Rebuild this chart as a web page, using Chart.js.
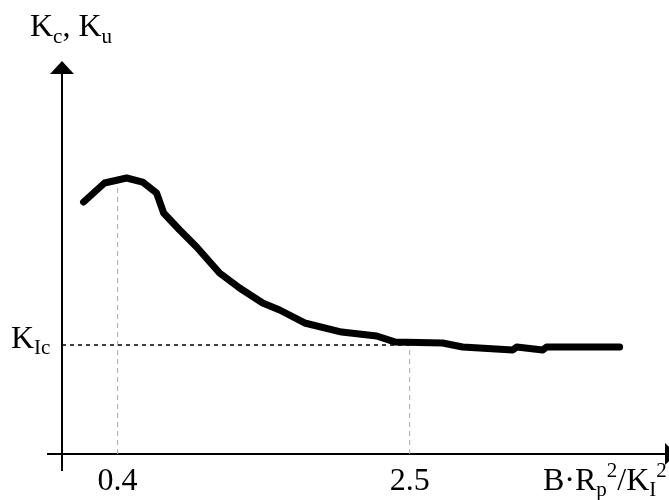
<!DOCTYPE html>
<html>
<head>
<meta charset="utf-8">
<script src="https://cdn.jsdelivr.net/npm/chart.js@4"></script>
<style>
  html, body { margin: 0; padding: 0; background: #fff; }
  canvas { display: block; }
</style>
</head>
<body>
<canvas id="kChart" width="669" height="500"></canvas>
<script>
// curve (x = B*Rp^2/KI^2, y in units of K_Ic)
const xValues = [0.155, 0.306, 0.465, 0.580, 0.680, 0.731, 0.846, 0.968, 1.133, 1.277, 1.443, 1.565,
                 1.745, 2.011, 2.263, 2.392, 2.737, 2.881, 3.241, 3.270, 3.457, 3.485, 4.010];
const kValues = [2.312, 2.486, 2.532, 2.495, 2.394, 2.211, 2.055, 1.899, 1.661, 1.523, 1.385, 1.321,
                 1.202, 1.119, 1.083, 1.028, 1.018, 0.982, 0.954, 0.982, 0.954, 0.982, 0.982];

// marked values
const xTicks = [0.4, 2.5];
const kIc = 1.0;
const kAtPeak = 2.48;

const serif = "'Liberation Serif', 'Times New Roman', serif";

// draws the arrowed axes and all the labels
const axesPlugin = {
  id: 'axes',
  beforeDatasetsDraw(chart) {
    const { ctx, scales: { x, y } } = chart;
    const x0 = x.getPixelForValue(0);
    const y0 = y.getPixelForValue(0);
    ctx.save();
    ctx.strokeStyle = '#000';
    ctx.fillStyle = '#000';
    ctx.lineWidth = 2;
    // y axis
    ctx.beginPath();
    ctx.moveTo(x0, y0 + 17);
    ctx.lineTo(x0, 72);
    ctx.stroke();
    ctx.beginPath();
    ctx.moveTo(x0, 61);
    ctx.lineTo(x0 - 12, 74);
    ctx.lineTo(x0 + 12, 74);
    ctx.closePath();
    ctx.fill();
    // x axis
    ctx.beginPath();
    ctx.moveTo(x0 - 15, y0);
    ctx.lineTo(666, y0);
    ctx.stroke();
    ctx.beginPath();
    ctx.moveTo(665, y0 - 11);
    ctx.lineTo(677, y0);
    ctx.lineTo(665, y0 + 11);
    ctx.closePath();
    ctx.fill();
    ctx.restore();
  },
  afterDraw(chart) {
    const { ctx, scales: { x, y } } = chart;
    const big = '32px ' + serif;
    const small = '21px ' + serif;
    ctx.save();
    ctx.fillStyle = '#000';
    ctx.textBaseline = 'alphabetic';

    // runs of [text, font, dy]
    function run(parts, startX, baseY) {
      let cx = startX;
      parts.forEach(([t, f, dy]) => {
        ctx.font = f;
        ctx.fillText(t, cx, baseY + dy);
        cx += ctx.measureText(t).width;
      });
    }

    // y title
    run([['K', big, 0], ['c', small, 7], [', ', big, 0], ['K', big, 0], ['u', small, 7]], 30, 36);

    // K_Ic tick
    const yk = y.getPixelForValue(kIc);
    run([['K', big, 0], ['Ic', small, 6]], 11, yk + 3);

    // x ticks
    ctx.font = big;
    ctx.textAlign = 'center';
    xTicks.forEach(v => ctx.fillText(String(v), x.getPixelForValue(v), 490));
    ctx.textAlign = 'left';

    // x title
    run([['B\u00b7R', big, 0], ['p', small, 6], ['2', small, -13], ['/K', big, 0],
         ['I', small, 6], ['2', small, -13]], 543, 490);
    ctx.restore();
  }
};

new Chart(document.getElementById('kChart'), {
  type: 'scatter',
  data: {
    datasets: [
      {
        data: xValues.map((v, i) => ({ x: v, y: kValues[i] })),
        showLine: true,
        borderColor: '#000',
        borderWidth: 7,
        borderCapStyle: 'round',
        borderJoinStyle: 'round',
        pointRadius: 0
      },
      {
        data: [{ x: 0, y: kIc }, { x: xTicks[1], y: kIc }],
        showLine: true,
        borderColor: '#000',
        borderWidth: 1.5,
        borderDash: [4, 4],
        pointRadius: 0
      },
      {
        data: [{ x: xTicks[0], y: 0 }, { x: xTicks[0], y: kAtPeak }],
        showLine: true,
        borderColor: '#aaa',
        borderWidth: 1,
        borderDash: [5, 4],
        pointRadius: 0
      },
      {
        data: [{ x: xTicks[1], y: 0 }, { x: xTicks[1], y: kIc }],
        showLine: true,
        borderColor: '#aaa',
        borderWidth: 1,
        borderDash: [5, 4],
        pointRadius: 0
      }
    ]
  },
  options: {
    responsive: false,
    animation: false,
    layout: { padding: { left: 62, right: 0, top: 0, bottom: 46 } },
    scales: {
      x: { type: 'linear', min: 0, max: 4.365, display: false },
      y: { type: 'linear', min: 0, max: 4.165, display: false }
    },
    plugins: {
      legend: { display: false },
      tooltip: { enabled: false }
    }
  },
  plugins: [axesPlugin]
});
</script>
</body>
</html>
